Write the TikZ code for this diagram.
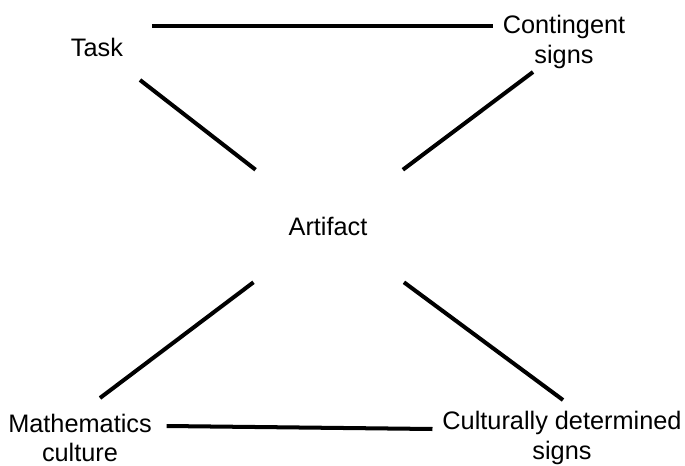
\documentclass[tikz,border=0pt]{standalone}
\usepackage{fontspec}
\setmainfont{Liberation Sans}
\tikzset{
  lab/.style={align=center,font=\fontsize{18}{20.8}\selectfont},
  link/.style={black,line width=2.85pt}
}
\begin{document}
\begin{tikzpicture}
        \useasboundingbox (0,0) rectangle (17.125,11.625);
        \node[lab] (T) at (2.425,10.45){Task};
        \node[lab] (C) at (14.1,10.575){Contingent\\signs};
        \node[lab,minimum width=3.8cm,minimum height=2.8cm,inner sep=0pt] (A) at (8.2,5.975){Artifact};
        \node[lab] (M) at (2.0,0.675){Mathematics\\culture};
        \node[lab] (D) at (14.05,0.675){Culturally determined\\signs};
        % free ends near the outer labels
        \coordinate (Tb) at (3.5,9.625);
        \coordinate (Cb) at (13.325,9.825);
        \coordinate (Mt) at (2.5,1.675);
        \coordinate (Dt) at (14.075,1.625);
        \draw[link] ([xshift=.6cm,yshift=.525cm]T.east) to ([xshift=-.125cm,yshift=.4cm]C.west);
        \draw[link] ([xshift=.25cm,yshift=.3cm]M.east) to ([xshift=-.125cm,yshift=.225cm]D.west);
        \draw[link] (Tb) to (A);
        \draw[link] (Cb) to (A);
        \draw[link] (Mt) to (A);
        \draw[link] (Dt) to (A);
    \end{tikzpicture}
\end{document}
